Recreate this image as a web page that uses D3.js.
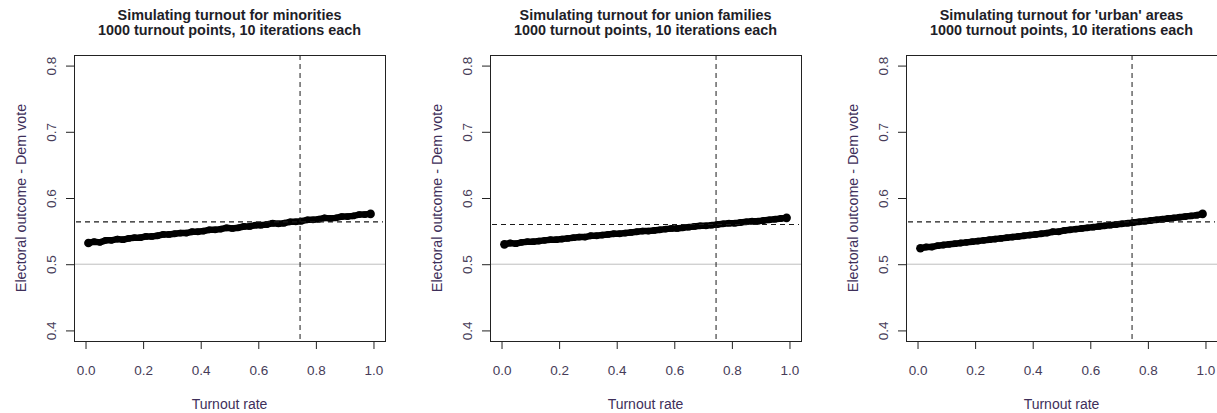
<!DOCTYPE html>
<html>
<head>
<meta charset="utf-8">
<script src="https://cdn.jsdelivr.net/npm/d3@7"></script>
<style>
  html, body { margin: 0; padding: 0; background: #fff; }
  svg { display: block; font-family: "Liberation Sans", Arial, sans-serif; }
</style>
</head>
<body>
<svg id="chart" width="1217" height="413"></svg>
<script>
// Simulated Dem vote share as a function of group turnout rate
const panelTitles = [
  "Simulating turnout for minorities",
  "Simulating turnout for union families",
  "Simulating turnout for 'urban' areas"
];
const subtitle = "1000 turnout points, 10 iterations each";

const turnout = [0.01,0.03,0.05,0.07,0.09,0.11,0.13,0.15,0.17,0.19,
                 0.21,0.23,0.25,0.27,0.29,0.31,0.33,0.35,0.37,0.39,
                 0.41,0.43,0.45,0.47,0.49,0.51,0.53,0.55,0.57,0.59,
                 0.61,0.63,0.65,0.67,0.69,0.71,0.73,0.75,0.77,0.79,
                 0.81,0.83,0.85,0.87,0.89,0.91,0.93,0.95,0.97,0.99];

const voteMinorities = [0.532,0.534,0.533,0.536,0.536,0.538,0.537,0.539,0.540,0.540,
                        0.542,0.542,0.543,0.545,0.545,0.546,0.547,0.547,0.549,0.549,
                        0.550,0.552,0.552,0.553,0.555,0.554,0.555,0.557,0.557,0.559,
                        0.559,0.560,0.562,0.561,0.562,0.564,0.564,0.565,0.567,0.567,
                        0.568,0.570,0.569,0.570,0.572,0.572,0.573,0.575,0.575,0.576];

const voteUnion = [0.530,0.532,0.531,0.533,0.534,0.534,0.535,0.536,0.537,0.537,
                   0.538,0.539,0.540,0.541,0.541,0.543,0.543,0.544,0.545,0.546,
                   0.546,0.547,0.548,0.549,0.550,0.550,0.551,0.552,0.553,0.554,
                   0.554,0.555,0.556,0.557,0.558,0.558,0.559,0.560,0.561,0.562,
                   0.562,0.563,0.564,0.565,0.565,0.566,0.567,0.568,0.569,0.570];

const voteUrban = [0.524,0.526,0.526,0.528,0.529,0.530,0.531,0.532,0.533,0.534,
                   0.535,0.536,0.537,0.538,0.539,0.540,0.541,0.542,0.543,0.544,
                   0.545,0.546,0.547,0.549,0.549,0.551,0.552,0.553,0.554,0.555,
                   0.556,0.557,0.558,0.559,0.560,0.561,0.562,0.563,0.564,0.565,
                   0.566,0.567,0.568,0.569,0.570,0.571,0.572,0.573,0.574,0.576];

// reference lines: observed turnout (vertical) and observed outcome (horizontal)
const refTurnout = [0.745, 0.745, 0.745];
const refOutcome = [0.564, 0.560, 0.564];
const baseline = 0.5;

const xTicks = [0, 0.2, 0.4, 0.6, 0.8, 1.0];
const yTicks = [0.4, 0.5, 0.6, 0.7, 0.8];

const series = [voteMinorities, voteUnion, voteUrban];

const svg = d3.select("#chart");
const plotTop = 55, plotBottom = 341, plotWidth = 311, firstLeft = 74, panelStep = 416;
const labelColor = "#3e2f5a";
const tickColor = "#463c58";

series.forEach((vals, i) => {
  const left = firstLeft + i * panelStep;
  const x = d3.scaleLinear().domain([-0.04, 1.04]).range([left, left + plotWidth]);
  const y = d3.scaleLinear().domain([0.384, 0.816]).range([plotBottom, plotTop]);
  const g = svg.append("g");

  // titles
  const cx = left + plotWidth / 2;
  g.append("text").attr("x", cx).attr("y", 19.5).attr("text-anchor", "middle")
    .attr("font-weight", "bold").attr("font-size", 14.4).attr("fill", "#1e1e28")
    .text(panelTitles[i]);
  g.append("text").attr("x", cx).attr("y", 34.5).attr("text-anchor", "middle")
    .attr("font-weight", "bold").attr("font-size", 14.4).attr("fill", "#1e1e28")
    .text(subtitle);

  // 0.5 baseline
  g.append("line")
    .attr("x1", left).attr("x2", left + plotWidth)
    .attr("y1", y(baseline)).attr("y2", y(baseline))
    .attr("stroke", "#bebebe").attr("stroke-width", 1);

  // simulated outcome band
  const line = d3.line().x((d, k) => x(turnout[k])).y(d => y(d)).curve(d3.curveLinear);
  g.append("path").datum(vals).attr("d", line)
    .attr("fill", "none").attr("stroke", "#000").attr("stroke-width", 6.5)
    .attr("stroke-linejoin", "round").attr("stroke-linecap", "round");
  g.selectAll("circle.pt").data(vals).enter().append("circle")
    .attr("class", "pt")
    .attr("cx", (d, k) => x(turnout[k])).attr("cy", d => y(d))
    .attr("r", (d, k) => (k === 0 || k === vals.length - 1) ? 4.3 : 3.4)
    .attr("fill", "#000");

  // reference lines
  g.append("line")
    .attr("x1", x(refTurnout[i])).attr("x2", x(refTurnout[i]))
    .attr("y1", plotTop).attr("y2", plotBottom)
    .attr("stroke", "#1a1a1a").attr("stroke-width", 1).attr("stroke-dasharray", "5,4");
  g.append("line")
    .attr("x1", left + 2).attr("x2", left + plotWidth - 2)
    .attr("y1", y(refOutcome[i])).attr("y2", y(refOutcome[i]))
    .attr("stroke", "#1a1a1a").attr("stroke-width", 1.2).attr("stroke-dasharray", "5,4");

  // axes
  const xAxis = d3.axisBottom(x).tickValues(xTicks).tickSize(8).tickPadding(0)
    .tickFormat(d3.format(".1f"));
  const xg = g.append("g").attr("transform", `translate(0,${plotBottom})`).call(xAxis);
  xg.select(".domain").remove();
  xg.selectAll(".tick line").attr("stroke", "#222");
  xg.selectAll(".tick text").attr("y", 34).attr("dy", 0)
    .attr("font-size", 13.5).attr("font-family", "Liberation Sans, Arial, sans-serif")
    .attr("fill", tickColor);

  const yAxis = d3.axisLeft(y).tickValues(yTicks).tickSize(8).tickFormat(d3.format(".1f"));
  const yg = g.append("g").attr("transform", `translate(${left},0)`).call(yAxis);
  yg.select(".domain").remove();
  yg.selectAll(".tick line").attr("stroke", "#222");
  yg.selectAll(".tick text")
    .attr("x", null).attr("dy", null)
    .attr("transform", "translate(-18,0) rotate(-90)")
    .attr("text-anchor", "middle")
    .attr("font-size", 13.5).attr("font-family", "Liberation Sans, Arial, sans-serif")
    .attr("fill", tickColor);

  // plot box
  g.append("rect")
    .attr("x", left + 0.5).attr("y", plotTop + 0.5)
    .attr("width", plotWidth).attr("height", plotBottom - plotTop)
    .attr("fill", "none").attr("stroke", "#222").attr("stroke-width", 1);

  // axis titles
  g.append("text").attr("x", cx).attr("y", 409).attr("text-anchor", "middle")
    .attr("font-size", 14).attr("fill", labelColor).text("Turnout rate");
  g.append("text")
    .attr("transform", `translate(${left - 48},${(plotTop + plotBottom) / 2}) rotate(-90)`)
    .attr("text-anchor", "middle").attr("font-size", 14.3).attr("fill", labelColor)
    .text("Electoral outcome - Dem vote");
});
</script>
</body>
</html>
